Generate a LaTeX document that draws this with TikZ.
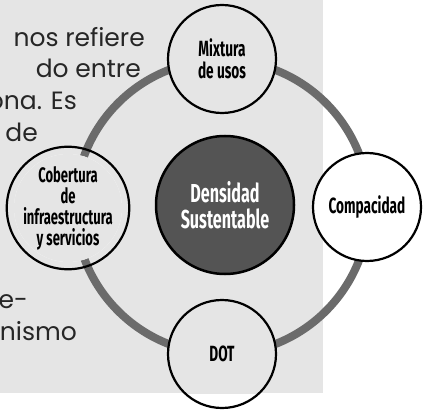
\documentclass[tikz,border=0pt]{standalone}
\usepackage{fontspec}
\setmainfont{Poppins}
\newfontfamily\condfont[FakeStretch=0.62]{Fira Sans}
\definecolor{bggray}{gray}{0.9}
\definecolor{ringgray}{gray}{0.42}
\definecolor{centergray}{gray}{0.33}
\definecolor{bodygray}{gray}{0.15}
\begin{document}
\begin{tikzpicture}[x=1pt,y=-1pt,
  sat/.style={circle, draw=black, line width=2.2pt, minimum size=108pt, inner sep=0pt,
    font=\condfont\bfseries\fontsize{22}{22}\selectfont, align=center, text=black},
  satsmall/.style={sat, font=\condfont\bfseries\fontsize{21}{21}\selectfont},
  center/.style={circle, draw=black, line width=2.5pt, fill=centergray, minimum size=138pt, inner sep=0pt,
    font=\condfont\bfseries\fontsize{26}{26}\selectfont, align=center, text=white},
  bodytext/.style={font=\fontsize{25}{32}\selectfont, text=bodygray, inner sep=0pt, anchor=base east},
  ring/.style={draw=ringgray, line width=8pt}]
\useasboundingbox (0,0) rectangle (430,414);
\clip (0,0) rectangle (430,414);
\fill[bggray] (0,0) rectangle (323,393);
% body text cut by the picture edge
\node[bodytext] (t1) at (145,47) {nos refiere};
\node[bodytext] (t2) at (141,78) {do entre};
\node[bodytext] (t3) at (77,110) {ona. Es};
\node[bodytext] (t4) at (38,142) {de};
\node[bodytext] (t5) at (28,308) {e-};
\node[bodytext] (t6) at (77,340) {nismo};
% ring
\coordinate (c) at (222,207);
\draw[ring] (c) circle[radius=147];
% backgrounds of the satellite circles
\foreach \p in {(222,59),(222,354),(68,208)}{
  \fill[white] \p circle[radius=54];
  \begin{scope}
    \clip (0,0) rectangle (323,393);
    \fill[bggray] \p circle[radius=54];
  \end{scope}
}
\fill[white] (367,207) circle[radius=54];
% nodes
\node[center] (dens) at (225,205) {Densidad\\Sustentable};
\node[sat] (mix) at (222,59) {Mixtura\\de usos};
\node[sat] (comp) at (367,207) {Compacidad};
\node[sat] (dot) at (222,354) {DOT};
\node[satsmall] (cob) at (68,208) {Cobertura\\de\\infraestructura\\y servicios};
\end{tikzpicture}
\end{document}
